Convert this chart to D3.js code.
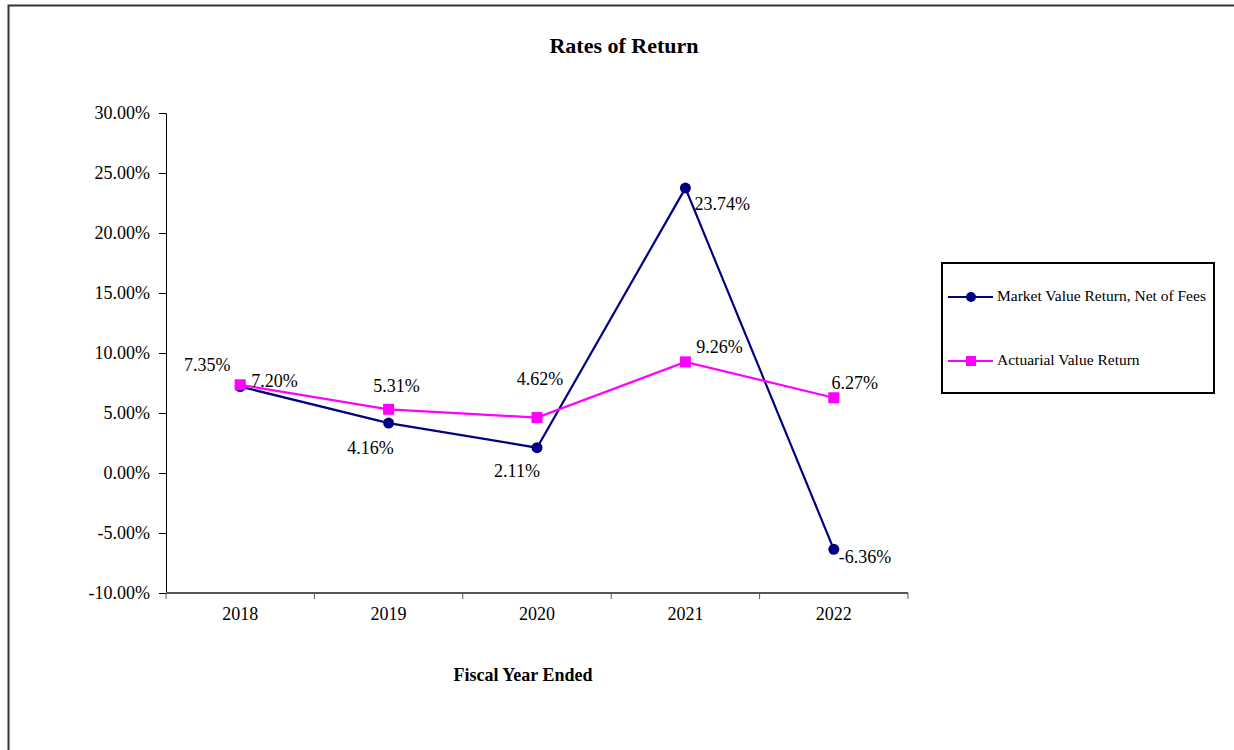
<!DOCTYPE html>
<html>
<head>
<meta charset="utf-8">
<script src="https://cdn.jsdelivr.net/npm/d3@7"></script>
<style>
  html, body { margin: 0; padding: 0; background: #fff; }
  svg { display: block; font-family: "Liberation Serif", "Times New Roman", serif; }
</style>
</head>
<body>
<svg id="chart" width="1234" height="750"></svg>
<script>
// Fiscal years and return series (percent)
const years = ["2018", "2019", "2020", "2021", "2022"];
const marketReturn = [7.20, 4.16, 2.11, 23.74, -6.36];
const actuarialReturn = [7.35, 5.31, 4.62, 9.26, 6.27];
const yTicks = [-10, -5, 0, 5, 10, 15, 20, 25, 30];

// Label placement offsets (dx, dy, anchor) per point
const marketLabelPos = [
  [11, -4, "start"], [-18, 27, "middle"], [-20, 25, "middle"], [9, 18, "start"], [5, 10, "start"]
];
const actuarialLabelPos = [
  [-33, -18, "middle"], [8, -21, "middle"], [3, -37, "middle"], [34, -13, "middle"], [21, -13, "middle"]
];

const svg = d3.select("#chart");

// Outer frame
svg.append("rect")
  .attr("x", 8.5).attr("y", 5.5)
  .attr("width", 1240).attr("height", 760)
  .attr("fill", "none").attr("stroke", "#333").attr("stroke-width", 2);

const plot = { left: 166, right: 908, top: 113, bottom: 593 };

const x = d3.scaleBand().domain(years).range([plot.left, plot.right]);
const y = d3.scaleLinear().domain([-10, 30]).range([plot.bottom, plot.top]);
const cx = d => x(d) + x.bandwidth() / 2;

// Title
svg.append("text")
  .attr("x", 624).attr("y", 53)
  .attr("text-anchor", "middle")
  .attr("font-size", 22).attr("font-weight", "bold")
  .text("Rates of Return");

// Y axis
const yAxis = d3.axisLeft(y)
  .tickValues(yTicks)
  .tickSize(7)
  .tickPadding(9)
  .tickFormat(d => d.toFixed(2) + "%");
const gy = svg.append("g").attr("transform", `translate(${plot.left},0)`).call(yAxis);
gy.select(".domain").attr("stroke", "#000").attr("stroke-width", 1);
gy.selectAll(".tick line").attr("stroke", "#000");
gy.selectAll(".tick text").attr("font-size", 18).attr("fill", "#000")
  .attr("font-family", "Liberation Serif, serif");

// X axis
const gx = svg.append("g").attr("transform", `translate(0,${plot.bottom})`);
gx.append("line")
  .attr("x1", plot.left).attr("x2", plot.right)
  .attr("y1", 0).attr("y2", 0)
  .attr("stroke", "#555").attr("stroke-width", 2);
const xTickPos = years.map(d => x(d)).concat([plot.right]);
gx.selectAll("line.tick").data(xTickPos).enter().append("line")
  .attr("class", "tick")
  .attr("x1", d => d).attr("x2", d => d)
  .attr("y1", 0).attr("y2", 6)
  .attr("stroke", "#555");
gx.selectAll("text.lbl").data(years).enter().append("text")
  .attr("class", "lbl")
  .attr("x", d => cx(d)).attr("y", 27)
  .attr("text-anchor", "middle")
  .attr("font-size", 18)
  .text(d => d);

// X axis title
svg.append("text")
  .attr("x", 523).attr("y", 681)
  .attr("text-anchor", "middle")
  .attr("font-size", 18).attr("font-weight", "bold")
  .text("Fiscal Year Ended");

const navy = "#000080";
const magenta = "#FF00FF";

const line = d3.line().x(d => cx(d.year)).y(d => y(d.v));
const marketData = years.map((yr, i) => ({ year: yr, v: marketReturn[i] }));
const actuarialData = years.map((yr, i) => ({ year: yr, v: actuarialReturn[i] }));

// Market value series
svg.append("path").datum(marketData)
  .attr("d", line).attr("fill", "none")
  .attr("stroke", navy).attr("stroke-width", 2.2);
svg.selectAll("circle.mkt").data(marketData).enter().append("circle")
  .attr("class", "mkt")
  .attr("cx", d => cx(d.year)).attr("cy", d => y(d.v)).attr("r", 5.5)
  .attr("fill", navy);

// Actuarial value series
svg.append("path").datum(actuarialData)
  .attr("d", line).attr("fill", "none")
  .attr("stroke", magenta).attr("stroke-width", 2.2);
svg.selectAll("rect.act").data(actuarialData).enter().append("rect")
  .attr("class", "act")
  .attr("x", d => cx(d.year) - 5.5).attr("y", d => y(d.v) - 5.5)
  .attr("width", 11).attr("height", 11)
  .attr("fill", magenta);

// Data labels
const fmt = v => v.toFixed(2) + "%";
svg.selectAll("text.mktlbl").data(marketData).enter().append("text")
  .attr("class", "mktlbl")
  .attr("x", (d, i) => cx(d.year) + marketLabelPos[i][0])
  .attr("y", (d, i) => y(d.v) + marketLabelPos[i][1])
  .attr("text-anchor", (d, i) => marketLabelPos[i][2])
  .attr("dominant-baseline", "middle")
  .attr("font-size", 18)
  .text(d => fmt(d.v));
svg.selectAll("text.actlbl").data(actuarialData).enter().append("text")
  .attr("class", "actlbl")
  .attr("x", (d, i) => cx(d.year) + actuarialLabelPos[i][0])
  .attr("y", (d, i) => y(d.v) + actuarialLabelPos[i][1])
  .attr("text-anchor", (d, i) => actuarialLabelPos[i][2])
  .attr("dominant-baseline", "middle")
  .attr("font-size", 18)
  .text(d => fmt(d.v));

// Legend
const legend = svg.append("g");
legend.append("rect")
  .attr("x", 942).attr("y", 263).attr("width", 272).attr("height", 130)
  .attr("fill", "#fff").attr("stroke", "#000").attr("stroke-width", 2);
const legendItems = [
  { label: "Market Value Return, Net of Fees", color: navy, shape: "circle", y: 297 },
  { label: "Actuarial Value Return", color: magenta, shape: "square", y: 361 }
];
legendItems.forEach(it => {
  legend.append("line")
    .attr("x1", 948).attr("x2", 993).attr("y1", it.y).attr("y2", it.y)
    .attr("stroke", it.color).attr("stroke-width", 2.2);
  if (it.shape === "circle") {
    legend.append("circle").attr("cx", 971).attr("cy", it.y).attr("r", 5).attr("fill", it.color);
  } else {
    legend.append("rect").attr("x", 966).attr("y", it.y - 5).attr("width", 10).attr("height", 10).attr("fill", it.color);
  }
  legend.append("text")
    .attr("x", 997).attr("y", it.y)
    .attr("dominant-baseline", "middle")
    .attr("font-size", 15.5)
    .text(it.label);
});
</script>
</body>
</html>
